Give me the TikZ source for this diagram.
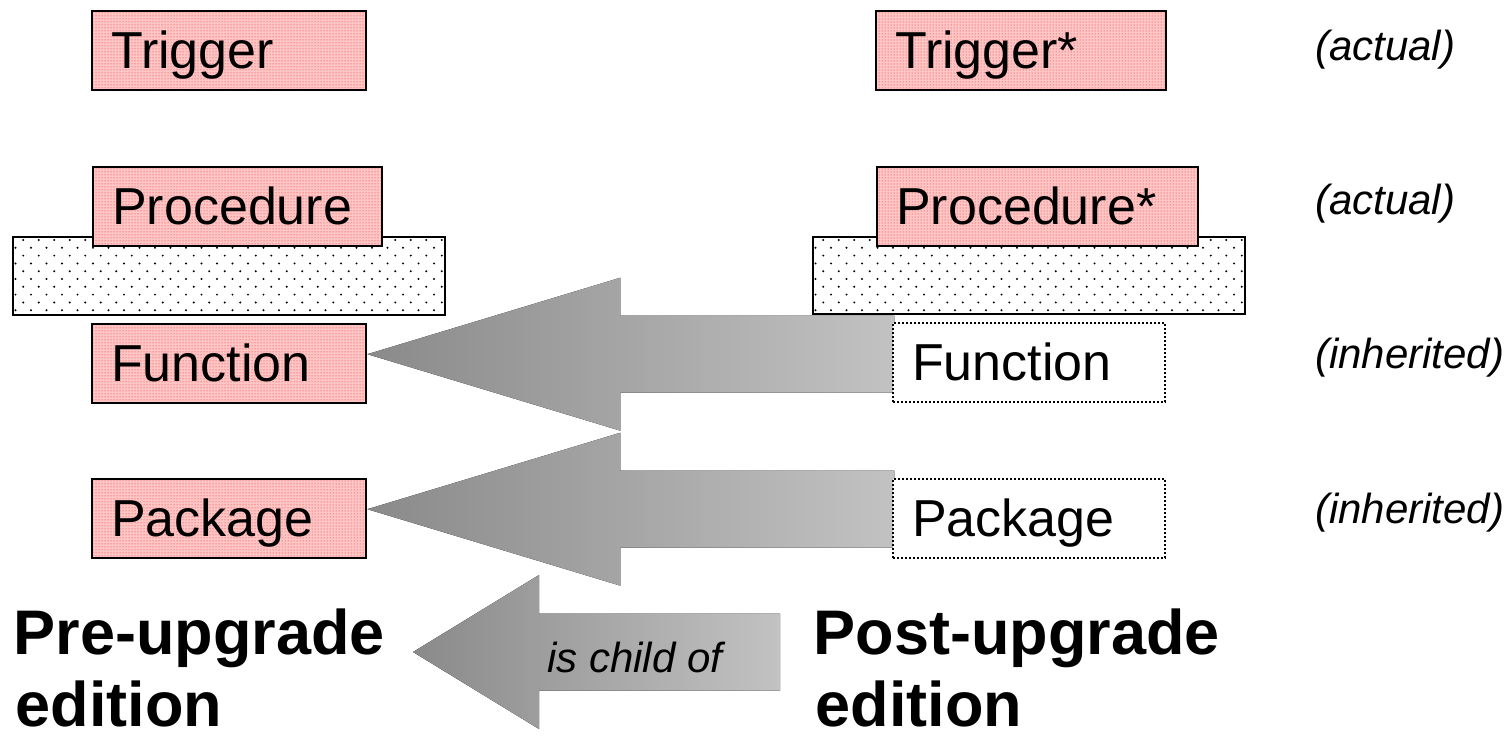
\documentclass[tikz,border=0pt]{standalone}
\usepackage{fontspec}
\setmainfont{Liberation Sans}
\usetikzlibrary{patterns,calc}
\definecolor{pinkbase}{RGB}{255,198,198}
\definecolor{dotred}{RGB}{235,30,30}
\definecolor{arrdark}{RGB}{138,138,138}
\definecolor{arrlight}{RGB}{194,194,194}
\newcommand\boxfont{\fontsize{52}{60}\selectfont}
\newcommand\labfont{\fontsize{42}{50}\selectfont\itshape}
\newcommand\edfont{\fontsize{63}{73}\selectfont\bfseries}
\begin{document}
\begin{tikzpicture}[x=1pt,y=-1pt,
 basebox/.style={anchor=north west, line width=2.4pt, inner xsep=19pt, inner ysep=0pt,
   text height=57pt, text depth=22pt, align=left, font=\boxfont},
 actualbox/.style={basebox, draw=black, preaction={fill=pinkbase}, pattern=dots, pattern color=dotred},
 inhbox/.style={basebox, draw=black, fill=white, line width=2pt, dash pattern=on 2pt off 2pt},
 platebox/.style={anchor=north west, draw=black, fill=white, line width=2.4pt, inner sep=0pt},
 blockarrow/.style={left color=arrdark, right color=arrlight, draw=none},
 note/.style={anchor=base west, inner sep=0pt, font=\labfont},
 edition/.style={anchor=base west, inner sep=0pt, font=\edfont},
]
\useasboundingbox (0,0) rectangle (1510,736);

% plates
\node[platebox, minimum width=432pt, minimum height=78pt] (plL) at (12,236) {};
\node[platebox, minimum width=432pt, minimum height=77pt] (plR) at (812,236) {};
\begin{scope}
\clip ($(plL.north west)+(2,2)$) rectangle ($(plL.south east)+(-2,-2)$);
\foreach \r in {0,...,9}{\foreach \c in {0,...,28}{
  \fill ({15.5+15.5*\c+7.75*mod(\r+1,2)},{240+7.8*\r}) circle (1.1pt);}}
\end{scope}
\begin{scope}
\clip ($(plR.north west)+(2,2)$) rectangle ($(plR.south east)+(-2,-2)$);
\foreach \r in {0,...,9}{\foreach \c in {0,...,28}{
  \fill ({815.5+15.5*\c+7.75*mod(\r+1,2)},{240+7.8*\r}) circle (1.1pt);}}
\end{scope}

% actual boxes
\node[actualbox, text width=236pt] (trig) at (91,10) {Trigger};
\node[actualbox, text width=251pt] (proc) at (92,166) {Procedure};
\node[actualbox, text width=252pt] (trigS) at (875,10) {Trigger*};
\node[actualbox, text width=283pt] (procS) at (876,166) {Procedure*};

\path (892,322) coordinate (funcRpos) (892,478) coordinate (packRpos);

\node[actualbox, text width=236pt] (func) at (91,323) {Function};
\node[actualbox, text width=236pt] (pack) at (91,478) {Package};

% arrows
\coordinate (t1) at ($(func.east)+(0,-9.5)$);
\fill[blockarrow] (t1) -- ++(253,-76.5) -- ++(0,38) -- ++(274,0) -- ++(0,77)
  -- ++(-274,0) -- ++(0,38) -- cycle;
\coordinate (t2) at ($(pack.east)+(0,-9.5)$);
\fill[blockarrow] (t2) -- ++(253,-76.5) -- ++(0,38) -- ++(274,0) -- ++(0,77)
  -- ++(-274,0) -- ++(0,38) -- cycle;
\coordinate (t3) at (413,652);
\fill[blockarrow] (t3) -- ++(126,-77) -- ++(0,38.5) -- ++(241,0) -- ++(0,77)
  -- ++(-241,0) -- ++(0,38.5) -- cycle;

\node[inhbox, text width=234pt] (funcR) at (funcRpos) {Function};
\node[inhbox, text width=234pt] (packR) at (packRpos) {Package};

% labels
\node[note] (a1) at (1315,60) {(actual)};
\node[note] (a2) at (1315,214) {(actual)};
\node[note] (i1) at (1315,368) {(inherited)};
\node[note] (i2) at (1315,523) {(inherited)};
\node[note] (child) at (547,672) {is child of};

\node[edition] (preA) at (13.5,654) {Pre-upgrade};
\node[edition] (preB) at (15.5,726) {edition};
\node[edition] (postA) at (813.5,654) {Post-upgrade};
\node[edition] (postB) at (815.5,726) {edition};
\end{tikzpicture}
\end{document}
